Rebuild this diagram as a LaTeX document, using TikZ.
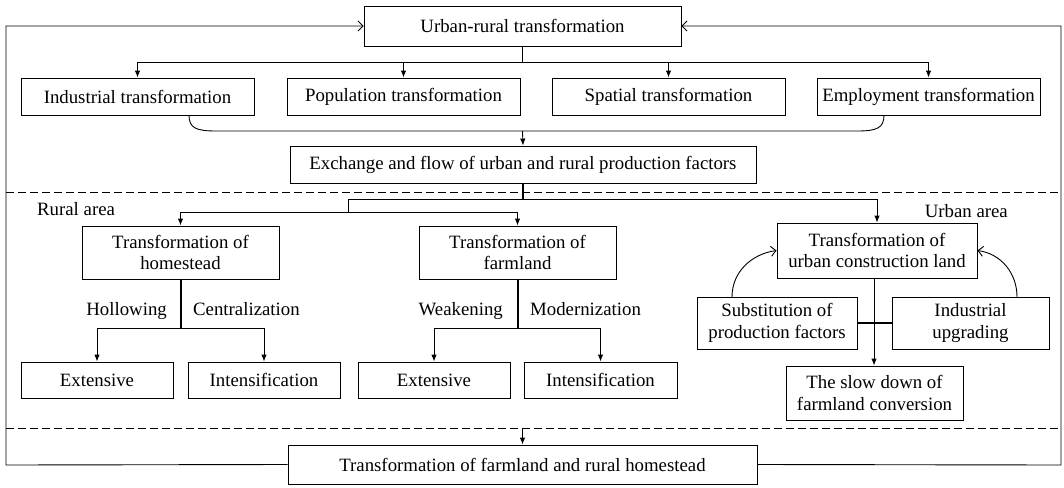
\documentclass[tikz,border=0pt]{standalone}
\usepackage{fontspec}
\setmainfont{Liberation Serif}
\usetikzlibrary{arrows.meta,calc}
\begin{document}
\begin{tikzpicture}[x=1pt,y=-1pt,
  box/.style={draw, line width=0.9pt, inner sep=0pt, align=center,
    font=\fontsize{18.8}{21.7}\selectfont},
  lbl/.style={inner sep=0pt, font=\fontsize{18.8}{21.7}\selectfont},
  link/.style={line width=0.9pt},
  stem/.style={line width=2pt},
  arr/.style={line width=0.9pt, -{Latex[length=7pt,width=5.5pt]}},
  back/.style={line width=0.9pt, -{Straight Barb[length=5pt,width=10pt]}},
  sep/.style={line width=0.9pt, dash pattern=on 8pt off 4pt}]
\useasboundingbox (0,0) rectangle (1064,487);

% ---- top level ----
\node[box, minimum width=317pt, minimum height=40pt] (top) at (522.5,26) {Urban-rural transformation};
\node[box, minimum width=233pt, minimum height=37pt] (ind) at (137.5,96.5) {Industrial transformation};
\node[box, minimum width=233pt, minimum height=37pt] (pop) at (403.5,96.5) {Population transformation};
\node[box, minimum width=233pt, minimum height=37pt] (spa) at (668.5,96.5) {Spatial transformation};
\node[box, minimum width=223pt, minimum height=37pt] (emp) at (928.5,96.5) {Employment transformation};
\node[box, minimum width=466pt, minimum height=37pt] (exch) at (523,164.5) {Exchange and flow of urban and rural production factors};

% ---- rural area ----
\node[lbl, anchor=base west] (rural) at (37,215) {Rural area};
\node[box, minimum width=197pt, minimum height=53pt] (home) at (180.5,252.5) {Transformation of\\homestead};
\node[box, minimum width=197pt, minimum height=53pt] (farm) at (517.5,252.5) {Transformation of\\farmland};
\node[box, minimum width=152pt, minimum height=36pt] (ext1) at (97,380) {Extensive};
\node[box, minimum width=152pt, minimum height=36pt] (int1) at (264,380) {Intensification};
\node[box, minimum width=152pt, minimum height=36pt] (ext2) at (434,380) {Extensive};
\node[box, minimum width=153pt, minimum height=36pt] (int2) at (600.5,380) {Intensification};
\node[lbl, anchor=base east] (hol) at (167,315) {Hollowing};
\node[lbl, anchor=base west] (cen) at (193,315) {Centralization};
\node[lbl, anchor=base east] (wea) at (503,315) {Weakening};
\node[lbl, anchor=base west] (mod) at (530,315) {Modernization};

% ---- urban area ----
\node[lbl, anchor=base east] (urban) at (1008,217) {Urban area};
\node[box, minimum width=200pt, minimum height=55pt] (urb) at (877,250.5) {Transformation of\\urban construction land};
\node[box, minimum width=160pt, minimum height=52pt] (sub) at (777,323) {Substitution of\\production factors};
\node[box, minimum width=157pt, minimum height=52pt] (upg) at (970.5,323) {Industrial\\upgrading};
\node[box, minimum width=177pt, minimum height=54pt] (slow) at (874.5,393) {The slow down of\\farmland conversion};

% ---- bottom ----
\node[box, minimum width=469pt, minimum height=39pt] (bot) at (522.5,464.5) {Transformation of farmland and rural homestead};

% ---- frame corners and separators ----
\coordinate (ftl) at (6,26);
\coordinate (fbl) at (6,465);
\coordinate (ftr) at (1061,26);
\coordinate (fbr) at (1061,465);
\coordinate (s1l) at (6,192.5);
\coordinate (s1r) at (1061,192.5);
\coordinate (s2l) at (6,428);
\coordinate (s2r) at (1061,428);
\draw[sep] (s1l) -- (s1r);
\draw[sep] (s2l) -- (s2r);

% feedback loop
\draw[back] (bot.west) -- (fbl) -- (ftl) -- (top.west);
\draw[back] (bot.east) -- (fbr) -- (ftr) -- (top.east);

% top to the four transformations
\coordinate (tj) at (522.5,62);
\draw[link] (top.south) -- (tj);
\draw[link] (ind.north |- tj) -- (emp.north |- tj);
\draw[arr] (ind.north |- tj) -- (ind.north);
\draw[arr] (pop.north |- tj) -- (pop.north);
\draw[arr] (spa.north |- tj) -- (spa.north);
\draw[arr] (emp.north |- tj) -- (emp.north);

% bracket joining the four transformations
\coordinate (bra) at (189,115);
\coordinate (brb) at (884,115);
\coordinate (brm) at (522.5,131);
\draw[link] (bra) .. controls (189,128) and (196,131) .. (216,131)
  -- (857,131) .. controls (877,131) and (884,128) .. (brb);
\draw[arr] (brm) -- (exch.north);

% exchange to rural and urban areas
\coordinate (ej) at (523,199);
\coordinate (rj) at (348.5,212);
\draw[stem] (exch.south) -- (ej);
\draw[link] (rj |- ej) -- (urb.north |- ej);
\draw[arr] (urb.north |- ej) -- (urb.north);
\draw[link] (rj |- ej) -- (rj);
\draw[link] (home.north |- rj) -- (farm.north |- rj);
\draw[arr] (home.north |- rj) -- (home.north);
\draw[arr] (farm.north |- rj) -- (farm.north);

% homestead branches
\coordinate (hj) at (180.5,328);
\draw[stem] (home.south) -- (hj);
\draw[link] (ext1.north |- hj) -- (int1.north |- hj);
\draw[arr] (ext1.north |- hj) -- (ext1.north);
\draw[arr] (int1.north |- hj) -- (int1.north);

% farmland branches
\coordinate (fj) at (517.5,328);
\draw[stem] (farm.south) -- (fj);
\draw[link] (ext2.north |- fj) -- (int2.north |- fj);
\draw[arr] (ext2.north |- fj) -- (ext2.north);
\draw[arr] (int2.north |- fj) -- (int2.north);

% urban construction land
\draw[arr] (urb.south -| slow.north) ++(-0.5,0) coordinate (uj) -- (uj |- slow.north);
\draw[stem] (sub.east) -- (upg.west);
\coordinate (sa) at (732,297);
\coordinate (ua) at (1017,297);
\draw[back] (sa) to[out=90, in=188] (urb.west);
\draw[back] (ua) to[out=90, in=-8] (urb.east);

% feed into the bottom box
\coordinate (bj) at (522.5,428);
\draw[arr] (bj) -- (bot.north);
\end{tikzpicture}
\end{document}
